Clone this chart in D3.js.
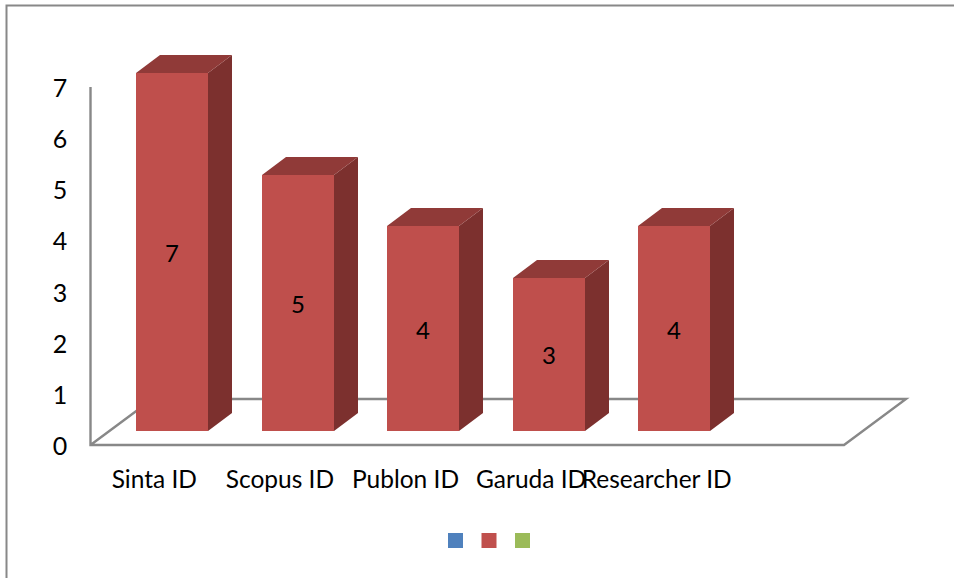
<!DOCTYPE html>
<html><head><meta charset="utf-8">
<script src="https://cdnjs.cloudflare.com/ajax/libs/d3/7.8.5/d3.min.js"></script>
<style>html,body{margin:0;padding:0;background:#fff}svg{display:block}text{font-family:Lato,"Open Sans",sans-serif;fill:#000}</style>
</head><body><svg id="c" width="954" height="578"></svg>
<script>
const categories = ["Sinta ID","Scopus ID","Publon ID","Garuda ID","Researcher ID"];
const values = [7,5,4,3,4];
const yTicks = [0,1,2,3,4,5,6,7];
const legendColors = ["#4F81BD","#C0504D","#9BBB59"];

const svg = d3.select("#c");
const axisCol = "#888888";
const floorL = 90.5, floorR = 844, floorDx = 62, floorDy = -46;
const y = d3.scaleLinear().domain([0,7]).range([445,87]);
const x = d3.scaleBand().domain([...categories,"_"]).range([floorL,floorL+6*125.6]).paddingInner(0).paddingOuter(0);
const barW = 72, depthX = 24, depthY = -18, baseUp = 14;
const barLeft = c => Math.round(x(c)+x.bandwidth()/2 + 18.7 - barW/2);
const barTop = v => Math.round(y(v)-baseUp);
const barBase = () => y(0)-baseUp;

// frame
svg.append("path").attr("d","M6.5,578V5.5H954").attr("fill","none").attr("stroke",axisCol).attr("stroke-width",2);

// floor and wall axis
svg.append("path").attr("d",`M${floorL},${y(7)}V${y(0)}H${floorR}L${floorR+floorDx},${y(0)+floorDy}H${floorL+floorDx}L${floorL},${y(0)}`)
  .attr("fill","none").attr("stroke",axisCol).attr("stroke-width",2.4).attr("stroke-linejoin","miter");

// bars
const g = svg.append("g").selectAll("g").data(categories.map((c,i)=>({c,v:values[i]}))).join("g");
g.append("path").attr("fill","#7C302E").attr("d",d=>{
  const r=barLeft(d.c)+barW, t=barTop(d.v), b=barBase();
  return `M${r-1},${t}H${r}l${depthX},${depthY}V${b+depthY}L${r},${b}H${r-1}Z`;});
g.append("path").attr("fill","#903A38").attr("d",d=>{
  const l=barLeft(d.c), t=barTop(d.v);
  return `M${l},${t+1}V${t}l${depthX},${depthY}h${barW}l${-depthX},${-depthY}V${t+1}Z`;});
g.append("rect").attr("fill","#BF4F4C").attr("x",d=>barLeft(d.c)).attr("width",barW)
  .attr("y",d=>barTop(d.v)).attr("height",d=>barBase()-barTop(d.v));

// data labels
g.append("text").attr("x",d=>barLeft(d.c)+barW/2).attr("y",d=>(y(d.v)+y(0))/2-14+10)
  .attr("text-anchor","middle").attr("font-size",24).text(d=>d.v);

// y labels
svg.append("g").selectAll("text").data(yTicks).join("text")
  .attr("x",60).attr("y",d=>y(d)+10).attr("text-anchor","middle").attr("font-size",25).text(d=>d);

// x labels
svg.append("g").selectAll("text").data(categories).join("text")
  .attr("x",c=>x(c)+x.bandwidth()/2+1).attr("y",488).attr("text-anchor","middle").attr("font-size",24.5).text(c=>c);

// legend
svg.append("g").selectAll("rect").data(legendColors).join("rect")
  .attr("x",(d,i)=>448+i*33.5).attr("y",533).attr("width",15).attr("height",15).attr("fill",d=>d);
</script></body></html>
